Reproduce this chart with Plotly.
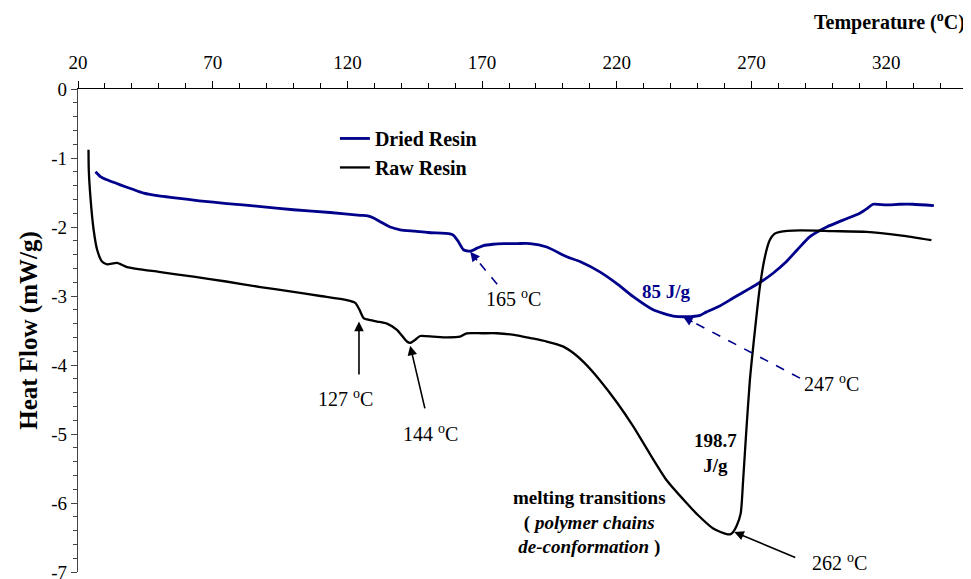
import plotly.graph_objects as go

# ---- data ----
raw_T = [23.9, 24.0, 24.6, 25.8, 27.1, 28.9, 30.8, 34.5, 38.2, 50, 62.9, 75, 87.7, 100, 110,
         119.8, 122.9, 124.5, 126.0, 128.5, 131, 134.7, 138.4, 142.1, 143.3, 145, 147.0, 152,
         157, 161.8, 164.3, 170, 175.5, 182.9, 188, 194.0, 200, 204, 208, 213.7, 220, 226.1,
         232, 238.5, 245.9, 250, 255.8, 258.5, 260.8, 262.3, 263.2, 264.5, 266.0, 266.9, 268,
         269.4, 271.3, 273.1, 275.0, 276.8, 278.5, 280.6, 288.0, 300, 312.7, 325.1, 336.8]
raw_HF = [-0.88, -1.17, -1.56, -2.04, -2.33, -2.50, -2.54, -2.52, -2.58, -2.65, -2.72, -2.79,
          -2.87, -2.94, -3.00, -3.06, -3.10, -3.20, -3.32, -3.35, -3.37, -3.40, -3.49, -3.66,
          -3.68, -3.64, -3.58, -3.59, -3.60, -3.59, -3.54, -3.54, -3.54, -3.57, -3.61, -3.66,
          -3.73, -3.83, -3.97, -4.22, -4.54, -4.89, -5.27, -5.67, -6.00, -6.17, -6.37, -6.42,
          -6.45, -6.45, -6.42, -6.33, -6.15, -5.67, -5.0, -4.22, -3.49, -2.87, -2.43, -2.19,
          -2.10, -2.07, -2.05, -2.06, -2.07, -2.12, -2.19]

dried_T = [26.5, 28.3, 31, 35.7, 40, 44.4, 50, 56.8, 65, 75.3, 87, 100, 113.6, 124.8, 127.5,
           129.7, 132.5, 135.9, 139.6, 145, 150, 158.1, 159.4, 161, 163.1, 165.6, 168, 170.5,
           174, 177.9, 183, 187.8, 194.0, 201.4, 206.3, 213.7, 220, 226.1, 233.5, 240.9, 245.9,
           250.9, 253.3, 258, 263.2, 269.4, 273.7, 278, 283.0, 287, 291.7, 297.9, 304, 310.2,
           313, 315.1, 320, 325, 330, 337.7]
dried_HF = [-1.20, -1.27, -1.32, -1.39, -1.45, -1.51, -1.55, -1.58, -1.62, -1.66, -1.70, -1.75,
            -1.79, -1.83, -1.84, -1.87, -1.93, -2.00, -2.04, -2.06, -2.08, -2.10, -2.12, -2.20,
            -2.33, -2.35, -2.31, -2.27, -2.25, -2.24, -2.24, -2.24, -2.29, -2.43, -2.50, -2.65,
            -2.82, -3.01, -3.20, -3.29, -3.30, -3.28, -3.23, -3.15, -3.03, -2.89, -2.79, -2.67,
            -2.50, -2.33, -2.14, -2.00, -1.90, -1.80, -1.73, -1.67, -1.68, -1.67, -1.67, -1.69]

x_ticks = [20, 70, 120, 170, 220, 270, 320]
x_labels = ["20", "70", "120", "170", "220", "270", "320"]
y_ticks = [0, -1, -2, -3, -4, -5, -6, -7]
y_labels = ["0", "-1", "-2", "-3", "-4", "-5", "-6", "-7"]

series_names = ["Dried Resin", "Raw Resin"]
NAVY = "#00008B"
FONT = "Liberation Serif"

fig = go.Figure()
fig.add_trace(go.Scatter(x=dried_T, y=dried_HF, mode="lines", name=series_names[0],
                         line=dict(color=NAVY, width=2.8, shape="spline", smoothing=0.6)))
fig.add_trace(go.Scatter(x=raw_T, y=raw_HF, mode="lines", name=series_names[1],
                         line=dict(color="black", width=2.3, shape="spline", smoothing=0.6)))

txt = dict(family=FONT, size=20, color="black")
annots = []
def label(x, y, text, font=txt, **kw):
    annots.append(dict(x=x, y=y, xref="x", yref="y", text=text, showarrow=False,
                       font=font, **kw))
def arrow(x, y, ax, ay, color="black"):
    annots.append(dict(x=x, y=y, ax=ax, ay=ay, xref="x", yref="y", axref="x", ayref="y",
                       text="", showarrow=True, arrowhead=2, arrowsize=1.2,
                       arrowwidth=1.6, arrowcolor=color))
def head(x, y, ax, ay, color):
    annots.append(dict(x=x, y=y, ax=ax, ay=ay, xref="x", yref="y",
                       text="", showarrow=True, arrowhead=2, arrowsize=1.2,
                       arrowwidth=1.6, arrowcolor=color))

# solid arrows
arrow(124.3, -3.37, 124.3, -4.16)
arrow(143.3, -3.72, 148.9, -4.65)
arrow(263.6, -6.42, 286.8, -6.80)
# dashed arrows
shapes = [
    dict(type="line", xref="x", yref="y", x0=175.6, y0=-2.83, x1=166.5, y1=-2.40,
         line=dict(color=NAVY, width=1.6, dash="dash")),
    dict(type="line", xref="x", yref="y", x0=288.0, y0=-4.19, x1=246.5, y1=-3.34,
         line=dict(color=NAVY, width=1.6, dash="dash")),
]
head(165.6, -2.36, 8, 10, NAVY)
head(244.6, -3.30, 11, 6, NAVY)

label(181.5, -3.03, "165 <sup>o</sup>C")
label(119.2, -4.48, "127 <sup>o</sup>C")
label(150.7, -4.99, "144 <sup>o</sup>C")
label(299.8, -4.26, "247 <sup>o</sup>C")
label(302.8, -6.86, "262 <sup>o</sup>C")
bold = dict(family=FONT, size=19, color="black", weight="bold")
label(238.3, -2.93, "85 J/g", font=dict(family=FONT, size=19, color=NAVY, weight="bold"))
label(256.8, -5.27, "198.7<br>J/g", font=bold)
label(209.8, -6.28, "melting transitions<br>( <i>polymer chains</i><br><i>de-conformation</i> )",
      font=bold)

annots.append(dict(x=1, y=1.139, xref="paper", yref="paper", xanchor="right",
                   yanchor="middle", showarrow=False, text="Temperature (<sup>o</sup>C)",
                   font=dict(family=FONT, size=20, color="black", weight="bold")))

# page body keeps an 8px default margin, so the figure is sized to fit inside it
fig.update_layout(
    width=963, height=571,
    margin=dict(l=70, r=4, t=81, b=7, autoexpand=False),
    paper_bgcolor="white", plot_bgcolor="white",
    showlegend=True,
    legend=dict(x=0.289, y=0.938, xanchor="left", yanchor="top",
                bgcolor="rgba(0,0,0,0)", font=dict(family=FONT, size=20, color="black",
                                                   weight="bold"),
                tracegroupgap=2),
    annotations=annots,
    shapes=shapes,
    xaxis=dict(side="top", range=[20, 350], tickvals=x_ticks, ticktext=x_labels,
               ticks="outside", ticklen=7, tickcolor="black", showline=True,
               linecolor="black", linewidth=1.3, showgrid=False, zeroline=False,
               minor=dict(dtick=10, tick0=20, ticks="outside", ticklen=5, tickcolor="black"),
               tickfont=dict(family=FONT, size=19, color="black"), ticklabelstandoff=4),
    yaxis=dict(range=[-7, 0], tickvals=y_ticks, ticktext=y_labels,
               ticks="outside", ticklen=6, tickcolor="#444", showline=True,
               linecolor="#444", linewidth=1.3, showgrid=False, zeroline=False,
               minor=dict(dtick=0.2, tick0=0, ticks="outside", ticklen=4, tickcolor="#444"),
               tickfont=dict(family=FONT, size=19, color="black"),
               ticklabeloverflow="allow",
               title=dict(text="Heat Flow (mW/g)", standoff=6,
                          font=dict(family=FONT, size=25, color="black", weight="bold"))),
)

fig.write_html("out.html")
